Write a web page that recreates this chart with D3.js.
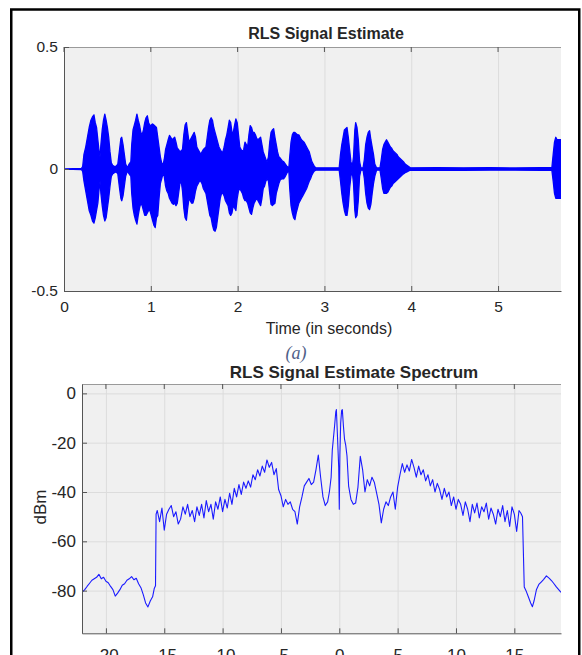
<!DOCTYPE html>
<html>
<head>
<meta charset="utf-8">
<script src="https://cdn.jsdelivr.net/npm/d3@7"></script>
<style>
  body { margin: 0; background: #fff; }
  svg text { font-family: "Liberation Sans", Arial, Helvetica, sans-serif; fill: #262626; }
</style>
</head>
<body>
<script>
var width = 582, height = 655;

// ---- (a) RLS signal estimate: envelope of the waveform
var sigTime = [
  0,0.004,0.2,0.215,0.23,0.25,0.27,0.29,0.31,0.33,
  0.345,0.36,0.375,0.39,0.405,0.415,0.425,0.44,0.455,0.47,
  0.485,0.5,0.515,0.53,0.545,0.56,0.58,0.6,0.62,0.64,
  0.655,0.665,0.68,0.695,0.71,0.73,0.75,0.77,0.78,0.795,
  0.81,0.825,0.84,0.855,0.87,0.885,0.9,0.915,0.93,0.945,
  0.96,0.975,0.99,1.005,1.02,1.035,1.05,1.065,1.08,1.095,
  1.11,1.125,1.14,1.155,1.17,1.185,1.2,1.215,1.23,1.245,
  1.26,1.275,1.29,1.305,1.32,1.335,1.35,1.365,1.38,1.395,
  1.41,1.425,1.44,1.455,1.47,1.485,1.5,1.515,1.53,1.545,
  1.56,1.575,1.59,1.605,1.62,1.635,1.65,1.665,1.68,1.695,
  1.71,1.725,1.74,1.755,1.77,1.785,1.8,1.815,1.83,1.845,
  1.86,1.875,1.89,1.905,1.92,1.935,1.95,1.965,1.98,1.995,
  2.01,2.025,2.04,2.055,2.07,2.085,2.1,2.115,2.13,2.145,
  2.16,2.175,2.19,2.205,2.22,2.235,2.25,2.265,2.28,2.295,
  2.31,2.325,2.34,2.355,2.37,2.385,2.4,2.415,2.43,2.445,
  2.46,2.475,2.49,2.51,2.53,2.55,2.57,2.59,2.6,2.615,
  2.63,2.645,2.66,2.675,2.69,2.705,2.72,2.735,2.75,2.765,
  2.78,2.795,2.81,2.825,2.84,2.855,2.87,2.885,2.9,3.17,
  3.185,3.2,3.215,3.23,3.245,3.26,3.275,3.29,3.305,3.32,
  3.335,3.35,3.36,3.375,3.39,3.405,3.42,3.445,3.46,3.475,
  3.49,3.505,3.52,3.535,3.55,3.565,3.58,3.6,3.64,3.655,
  3.67,3.685,3.7,3.715,3.73,3.745,3.76,3.775,3.79,3.805,
  3.82,3.835,3.85,3.865,3.88,3.895,3.91,3.93,3.95,3.97,
  3.99,4.3,4.6,4.9,5.2,5.5,5.62,5.635,5.65,5.665,
  5.68,5.7,5.75
];
var sigUpper = [
  0.22,0,0.002,0.01,0.06,0.09,0.13,0.17,0.2,0.215,
  0.222,0.19,0.17,0.12,0.07,0.05,0.1,0.16,0.2,0.225,
  0.2,0.17,0.13,0.07,0.025,0.015,0.01,0.012,0.02,0.08,
  0.125,0.13,0.1,0.06,0.02,0.005,0.02,0.03,0.1,0.16,
  0.18,0.2,0.225,0.2,0.18,0.15,0.14,0.16,0.19,0.21,
  0.218,0.19,0.178,0.18,0.185,0.18,0.175,0.17,0.13,0.09,
  0.05,0.025,0.016,0.04,0.08,0.1,0.12,0.138,0.13,0.12,
  0.125,0.13,0.11,0.085,0.08,0.07,0.075,0.08,0.14,0.18,
  0.19,0.15,0.11,0.12,0.13,0.14,0.15,0.13,0.09,0.08,
  0.07,0.06,0.07,0.08,0.085,0.09,0.13,0.17,0.2,0.21,
  0.2,0.17,0.15,0.13,0.11,0.09,0.08,0.07,0.07,0.09,
  0.12,0.14,0.17,0.2,0.19,0.15,0.15,0.18,0.205,0.19,
  0.14,0.09,0.08,0.07,0.08,0.11,0.1,0.09,0.14,0.178,
  0.17,0.15,0.15,0.14,0.125,0.12,0.125,0.13,0.1,0.07,
  0.055,0.04,0.03,0.05,0.11,0.15,0.16,0.165,0.13,0.1,
  0.07,0.05,0.045,0.035,0.03,0.02,0.01,0.005,0.05,0.11,
  0.14,0.15,0.15,0.145,0.14,0.14,0.13,0.12,0.115,0.11,
  0.1,0.09,0.08,0.07,0.05,0.03,0.02,0.01,0.005,0.005,
  0.06,0.1,0.13,0.16,0.165,0.17,0.13,0.08,0.03,0.01,
  0.05,0.16,0.19,0.17,0.12,0.03,0.005,0.005,0.04,0.1,
  0.13,0.15,0.157,0.12,0.09,0.06,0.02,0.005,0.005,0.04,
  0.08,0.1,0.11,0.12,0.11,0.1,0.09,0.085,0.075,0.07,
  0.065,0.06,0.05,0.045,0.04,0.035,0.03,0.02,0.015,0.01,
  0.005,0.006,0.005,0.006,0.004,0.006,0.006,0.06,0.11,0.13,
  0.12,0.12,0.12
];
var sigLower = [
  -0.25,0,-0.002,-0.01,-0.05,-0.09,-0.13,-0.17,-0.19,-0.215,
  -0.222,-0.2,-0.17,-0.14,-0.08,-0.05,-0.1,-0.15,-0.19,-0.213,
  -0.2,-0.16,-0.12,-0.07,-0.03,-0.02,-0.015,-0.012,-0.02,-0.08,
  -0.12,-0.13,-0.11,-0.07,-0.03,-0.008,-0.02,-0.03,-0.1,-0.16,
  -0.19,-0.21,-0.226,-0.19,-0.16,-0.14,-0.15,-0.17,-0.19,-0.19,
  -0.18,-0.17,-0.17,-0.19,-0.21,-0.23,-0.24,-0.2,-0.19,-0.12,
  -0.06,-0.04,-0.02,-0.03,-0.07,-0.09,-0.1,-0.12,-0.13,-0.14,
  -0.145,-0.14,-0.15,-0.14,-0.1,-0.06,-0.05,-0.09,-0.16,-0.2,
  -0.21,-0.16,-0.12,-0.13,-0.14,-0.14,-0.12,-0.09,-0.07,-0.06,
  -0.05,-0.05,-0.06,-0.08,-0.09,-0.1,-0.13,-0.16,-0.19,-0.2,
  -0.23,-0.25,-0.255,-0.24,-0.2,-0.16,-0.12,-0.1,-0.1,-0.11,
  -0.13,-0.14,-0.15,-0.18,-0.19,-0.18,-0.15,-0.16,-0.17,-0.12,
  -0.09,-0.08,-0.09,-0.1,-0.12,-0.13,-0.13,-0.14,-0.16,-0.18,
  -0.186,-0.16,-0.14,-0.13,-0.12,-0.13,-0.14,-0.15,-0.12,-0.08,
  -0.07,-0.05,-0.04,-0.05,-0.1,-0.145,-0.15,-0.145,-0.14,-0.1,
  -0.08,-0.06,-0.045,-0.04,-0.04,-0.03,-0.015,-0.008,-0.08,-0.15,
  -0.18,-0.2,-0.207,-0.18,-0.16,-0.14,-0.13,-0.12,-0.11,-0.1,
  -0.09,-0.08,-0.065,-0.05,-0.04,-0.025,-0.015,-0.008,-0.005,-0.005,
  -0.05,-0.1,-0.14,-0.17,-0.19,-0.19,-0.15,-0.08,-0.03,-0.01,
  -0.06,-0.17,-0.2,-0.19,-0.13,-0.03,-0.005,-0.005,-0.04,-0.1,
  -0.14,-0.16,-0.166,-0.145,-0.1,-0.06,-0.03,-0.005,-0.005,-0.04,
  -0.08,-0.1,-0.1,-0.1,-0.095,-0.085,-0.075,-0.07,-0.06,-0.055,
  -0.05,-0.045,-0.04,-0.035,-0.03,-0.025,-0.02,-0.015,-0.012,-0.008,
  -0.005,-0.006,-0.006,-0.005,-0.005,-0.006,-0.006,-0.05,-0.1,-0.12,
  -0.12,-0.12,-0.12
];
var timeTicks = [0, 1, 2, 3, 4, 5];
var ampTicks = [-0.5, 0, 0.5];

// ---- spectrum (dBm vs frequency)
var specFreq = [
  -22.0,-21.8,-21.6,-21.4,-21.2,-21.0,-20.8,-20.6,-20.4,-20.2,
  -20.0,-19.8,-19.6,-19.4,-19.2,-19.0,-18.8,-18.6,-18.4,-18.2,
  -18.0,-17.8,-17.6,-17.4,-17.2,-17.0,-16.8,-16.6,-16.4,-16.2,
  -16.0,-15.85,-15.75,-15.7,-15.6,-15.4,-15.2,-15.0,-14.8,-14.6,
  -14.4,-14.2,-14.0,-13.8,-13.6,-13.4,-13.2,-13.0,-12.8,-12.6,
  -12.4,-12.2,-12.0,-11.8,-11.6,-11.4,-11.2,-11.0,-10.8,-10.6,
  -10.4,-10.2,-10.0,-9.8,-9.6,-9.4,-9.2,-9.0,-8.8,-8.6,
  -8.4,-8.2,-8.0,-7.8,-7.6,-7.4,-7.2,-7.0,-6.8,-6.6,
  -6.4,-6.2,-6.0,-5.8,-5.6,-5.4,-5.2,-5.0,-4.8,-4.6,
  -4.4,-4.2,-4.0,-3.8,-3.6,-3.4,-3.2,-3.0,-2.8,-2.6,
  -2.4,-2.2,-2.0,-1.8,-1.6,-1.4,-1.2,-1.0,-0.85,-0.7,
  -0.6,-0.5,-0.4,-0.3,-0.25,-0.15,-0.05,0.0,0.05,0.12,
  0.2,0.26,0.35,0.45,0.55,0.66,0.8,1.0,1.2,1.4,
  1.6,1.8,2.0,2.2,2.4,2.6,2.8,3.0,3.2,3.4,
  3.6,3.8,4.0,4.2,4.4,4.6,4.8,5.0,5.2,5.4,
  5.6,5.8,6.0,6.2,6.4,6.6,6.8,7.0,7.2,7.4,
  7.6,7.8,8.0,8.2,8.4,8.6,8.8,9.0,9.2,9.4,
  9.6,9.8,10.0,10.2,10.4,10.6,10.8,11.0,11.2,11.4,
  11.6,11.8,12.0,12.2,12.4,12.6,12.8,13.0,13.2,13.4,
  13.6,13.8,14.0,14.2,14.4,14.6,14.8,15.0,15.2,15.4,
  15.55,15.7,15.85,16.0,16.2,16.4,16.55,16.7,16.9,17.1,
  17.3,17.5,17.75,18.0,18.2,18.4,18.6,18.8,19.0
];
var specDb = [
  -80.5,-79.5,-78.2,-77,-75.8,-75.2,-74.6,-73.4,-75.2,-74.6,
  -76.2,-76.8,-78.3,-79.6,-82.2,-81,-79.6,-77.8,-77.2,-75.8,
  -75.2,-74.3,-75.6,-75,-77.2,-78.8,-81.6,-85,-86.6,-84.2,
  -82.5,-79,-78,-49,-47.5,-52,-46.5,-55.5,-49,-47,
  -45.5,-50,-48,-53,-51,-46,-49,-45,-50,-47.5,
  -52,-46,-49.5,-45,-50.5,-43.5,-48,-45,-51,-44,
  -47,-42,-48,-43,-46.5,-40.5,-45,-38.5,-42,-37,
  -41,-36,-38.5,-35.5,-38,-33,-35,-31,-33.5,-29.5,
  -32,-27,-30,-28,-33,-30.5,-39,-41.5,-46,-43,
  -45,-44,-47,-48,-53,-46,-42,-37.5,-36,-34.5,
  -37,-36,-31,-25,-34,-42,-45.5,-44,-40,-34,
  -23,-18,-13,-7.5,-6.6,-18,-30,-47,-25,-12,
  -7,-6.6,-13,-18.7,-21,-25.4,-37.6,-43,-45,-44.5,
  -38,-25.5,-31,-40,-35,-37.5,-34,-36,-40.5,-45,
  -52.5,-47,-44,-45.5,-42,-40,-47,-38,-33,-28.5,
  -32,-29,-31.5,-26.8,-30,-34,-29.5,-33,-31,-35.5,
  -33,-37.5,-35,-40,-36.5,-39,-43,-38.5,-42,-40,
  -45.5,-42,-47,-43,-45,-49.5,-44,-47,-52,-45,
  -48.5,-44.5,-50.5,-46,-48,-44.5,-51,-46.5,-49,-53,
  -47,-50,-45.5,-52,-47.5,-54,-46,-49,-56,-47.5,
  -48.5,-50,-78.5,-80,-82.5,-85,-86.5,-84,-79.5,-77.5,
  -76.5,-75.5,-74,-75,-76,-77.2,-78.5,-79.6,-80.7
];
var freqTicks = [-20, -15, -10, -5, 0, 5, 10, 15];
var dbTicks = [-80, -60, -40, -20, 0];

var svg = d3.select("body").append("svg")
  .attr("width", width)
  .attr("height", height);

// outer frame
svg.append("rect")
  .attr("x", 11.25).attr("y", 9.5)
  .attr("width", 568).attr("height", 700)
  .attr("fill", "none").attr("stroke", "#000").attr("stroke-width", 2.5);

function panel(cfg) {
  var x = cfg.x, y = cfg.y;
  var x0 = x.range()[0], x1 = x.range()[1];
  var yb = y.range()[0], yt = y.range()[1];
  var g = svg.append("g");

  g.append("rect")
    .attr("x", x0).attr("y", yt)
    .attr("width", x1 - x0).attr("height", yb - yt)
    .attr("fill", "#f0f0f0");

  // grid
  g.append("g")
    .attr("transform", "translate(0," + yb + ")")
    .call(d3.axisBottom(x).tickValues(cfg.xTicks).tickSize(-(yb - yt)).tickFormat(""))
    .call(function(s) {
      s.select(".domain").remove();
      s.selectAll("line").attr("stroke", "#dcdcdc").attr("stroke-width", 1);
    });
  g.append("g")
    .attr("transform", "translate(" + x0 + ",0)")
    .call(d3.axisLeft(y).tickValues(cfg.yTicks).tickSize(-(x1 - x0)).tickFormat(""))
    .call(function(s) {
      s.select(".domain").remove();
      s.selectAll("line").attr("stroke", "#dcdcdc").attr("stroke-width", 1);
    });

  var clipId = "clip" + cfg.id;
  svg.append("clipPath").attr("id", clipId)
    .append("rect").attr("x", x0).attr("y", yt).attr("width", x1 - x0).attr("height", yb - yt);

  var plot = g.append("g").attr("clip-path", "url(#" + clipId + ")");
  cfg.draw(plot);

  // box lines (top / bottom / left, right side is cropped)
  g.append("line").attr("x1", x0).attr("x2", x1).attr("y1", yt + 0.5).attr("y2", yt + 0.5)
    .attr("stroke", "#9a9a9a");

  var xa = g.append("g")
    .attr("transform", "translate(0," + yb + ")")
    .call(d3.axisBottom(x).tickValues(cfg.xTicks).tickSizeInner(-5).tickSizeOuter(0)
      .tickFormat(function(d) { return String(d); }));
  xa.select(".domain").attr("stroke", "#555");
  xa.selectAll("line").attr("stroke", "#555");
  xa.selectAll("text").attr("y", cfg.xLabelY).attr("dy", 0)
    .style("font-size", cfg.fontSize + "px").style("fill", "#262626");

  // top ticks
  g.selectAll(".tt").data(cfg.xTicks).enter().append("line")
    .attr("x1", function(d) { return x(d); }).attr("x2", function(d) { return x(d); })
    .attr("y1", yt).attr("y2", yt + 5).attr("stroke", "#555");

  var ya = g.append("g")
    .attr("transform", "translate(" + x0 + ",0)")
    .call(d3.axisLeft(y).tickValues(cfg.yTicks).tickSizeInner(-5).tickSizeOuter(0)
      .tickFormat(function(d) { return String(d); }));
  ya.select(".domain").attr("stroke", "#555");
  ya.selectAll("line").attr("stroke", "#555");
  ya.selectAll("text").attr("x", -cfg.yLabelGap)
    .style("font-size", cfg.fontSize + "px").style("fill", "#262626");

  svg.append("text")
    .attr("x", cfg.titleX).attr("y", cfg.titleY)
    .attr("text-anchor", "middle")
    .style("font-weight", "bold").style("font-size", cfg.titleSize + "px")
    .text(cfg.title);
}

// ---- top panel
var xT = d3.scaleLinear().domain([0, 5.725]).range([64, 561]);
var yA = d3.scaleLinear().domain([-0.5, 0.5]).range([291, 47]);

var sigArea = d3.area()
  .x(function(i) { return xT(sigTime[i]); })
  .y0(function(i) { return yA(sigLower[i]); })
  .y1(function(i) { return yA(sigUpper[i]); });

panel({
  id: "a", x: xT, y: yA, xTicks: timeTicks, yTicks: ampTicks,
  xLabelY: 21, yLabelGap: 6, fontSize: 15.5,
  title: "RLS Signal Estimate", titleX: 326, titleY: 39, titleSize: 16,
  draw: function(p) {
    p.append("path")
      .datum(d3.range(sigTime.length))
      .attr("d", sigArea)
      .attr("fill", "#0000ff")
      .attr("stroke", "#0000ff")
      .attr("stroke-width", 1.3)
      .attr("stroke-linejoin", "round");
  }
});

svg.append("text")
  .attr("x", 329).attr("y", 334)
  .attr("text-anchor", "middle")
  .style("font-size", "16px")
  .text("Time (in seconds)");

svg.append("text")
  .attr("x", 296).attr("y", 359)
  .attr("text-anchor", "middle")
  .style("font-family", "'Liberation Serif', 'DejaVu Serif', serif")
  .style("font-style", "italic")
  .style("font-size", "18px")
  .style("fill", "#4f6088")
  .text("(a)");

// ---- spectrum panel
var xF = d3.scaleLinear().domain([-22.05, 19.0]).range([82, 561]);
var yD = d3.scaleLinear().domain([-97.3, 3.8]).range([633.3, 384]);

var specLine = d3.line()
  .x(function(i) { return xF(specFreq[i]); })
  .y(function(i) { return yD(specDb[i]); });

panel({
  id: "b", x: xF, y: yD, xTicks: freqTicks, yTicks: dbTicks,
  xLabelY: 28, yLabelGap: 6, fontSize: 17,
  title: "RLS Signal Estimate Spectrum", titleX: 354, titleY: 378, titleSize: 17,
  draw: function(p) {
    p.append("path")
      .datum(d3.range(specFreq.length))
      .attr("d", specLine)
      .attr("fill", "none")
      .attr("stroke", "#1a1aff")
      .attr("stroke-width", 1.1)
      .attr("stroke-linejoin", "round");
  }
});

svg.append("text")
  .attr("transform", "translate(46,507) rotate(-90)")
  .attr("text-anchor", "middle")
  .style("font-size", "17px")
  .text("dBm");
</script>
</body>
</html>
